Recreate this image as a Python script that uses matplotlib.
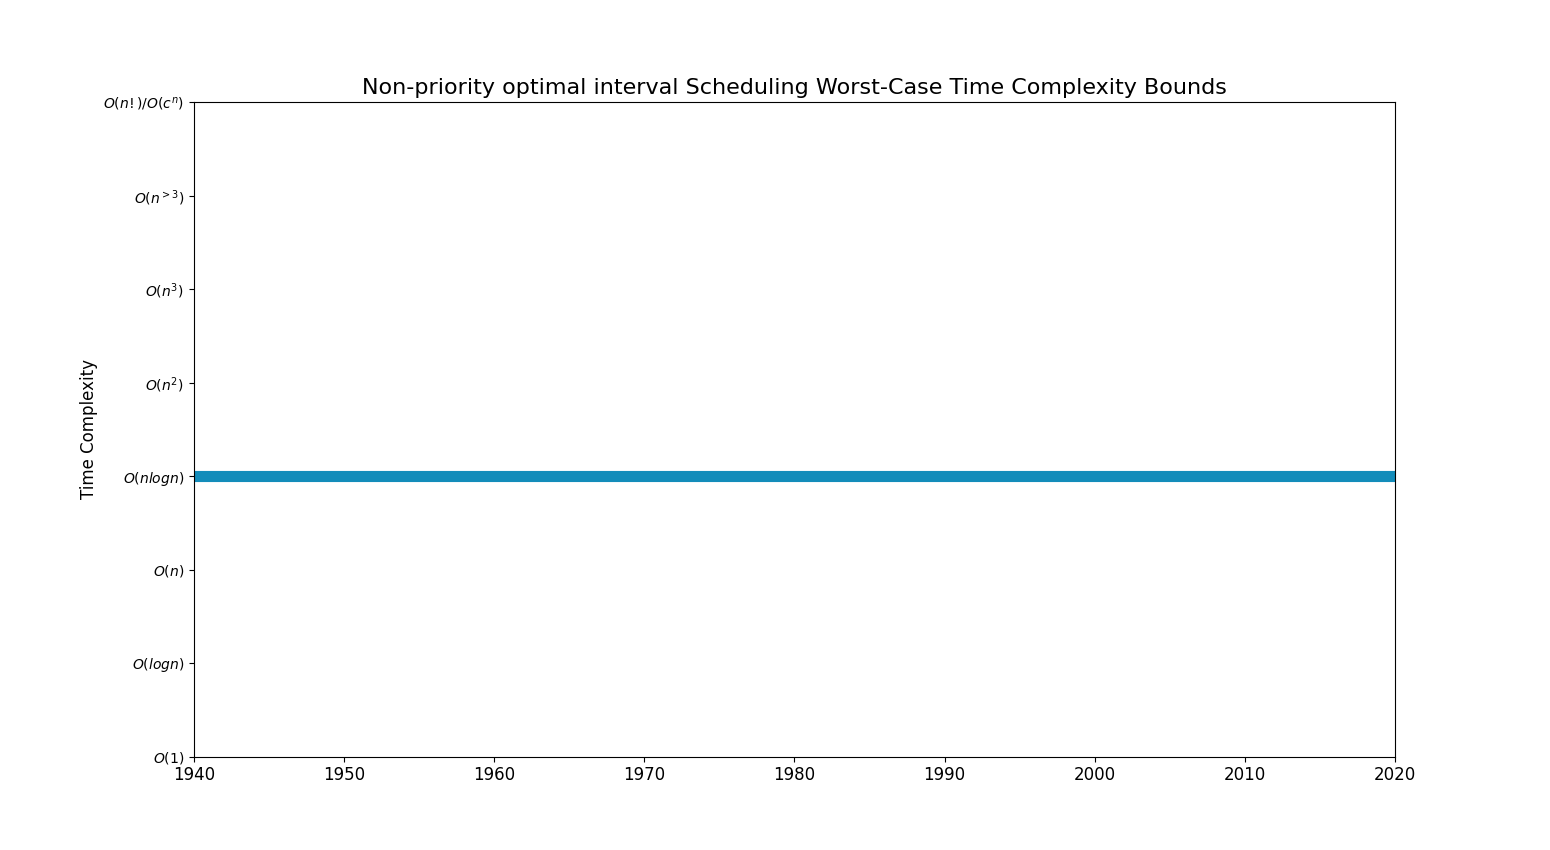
import matplotlib
matplotlib.use("Agg")
import matplotlib.pyplot as plt

years = [1940, 2020]
complexity = [3, 3]
ytick_labels = [r"$O(1)$", r"$O(logn)$", r"$O(n)$", r"$O(nlogn)$", r"$O(n^2)$",
                r"$O(n^3)$", r"$O(n^{>3})$", r"$O(n!)/O(c^n)$"]
xticks = [1940, 1950, 1960, 1970, 1980, 1990, 2000, 2010, 2020]

fig, ax = plt.subplots(figsize=(15.5, 8.5), dpi=100)
ax.plot(years, complexity, color="#138cba", linewidth=8, solid_capstyle="butt")
ax.set_xlim(1940, 2020)
ax.set_ylim(0, 7)
ax.set_yticks(range(len(ytick_labels)))
ax.set_yticklabels(ytick_labels, fontsize=10)
ax.set_xticks(xticks)
ax.tick_params(axis="x", labelsize=12)
ax.set_ylabel("Time Complexity", fontsize=12)
ax.set_title("Non-priority optimal interval Scheduling Worst-Case Time Complexity Bounds", fontsize=16)
fig.savefig("out.png", dpi=100)
